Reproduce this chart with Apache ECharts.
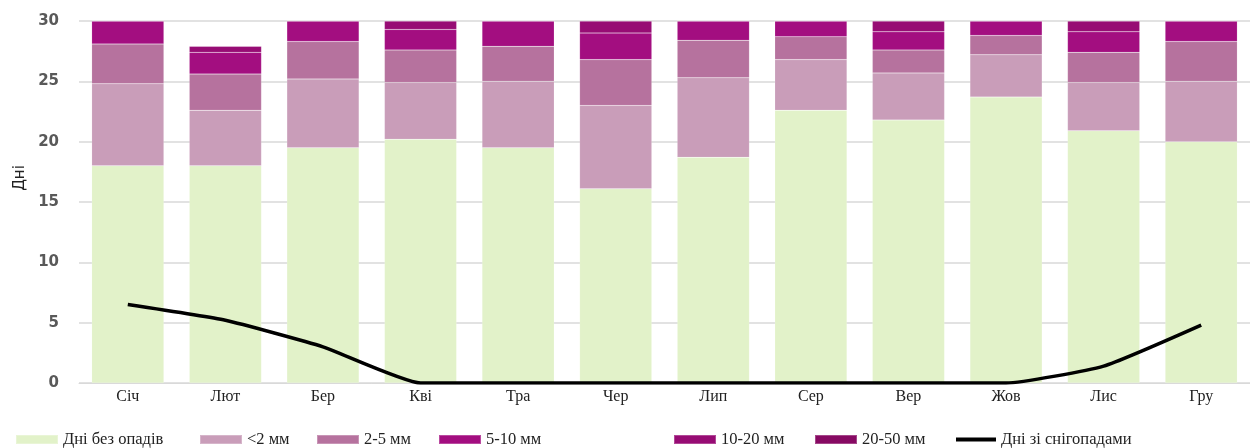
<!DOCTYPE html>
<html>
<head>
<meta charset="utf-8">
<script src="https://cdn.jsdelivr.net/npm/echarts@6/dist/echarts.min.js"></script>
<style>
html,body{margin:0;padding:0;background:#fff;}
#chart{width:1250px;height:448px;}
</style>
</head>
<body>
<div id="chart"></div>
<script>
const months = ['Січ','Лют','Бер','Кві','Тра','Чер','Лип','Сер','Вер','Жов','Лис','Гру'];
const dryDays   = [18.0, 18.0, 19.5, 20.2, 19.5, 16.1, 18.7, 22.6, 21.8, 23.7, 20.9, 20.0];
const lt2mm     = [6.8, 4.6, 5.7, 4.7, 5.5, 6.9, 6.6, 4.2, 3.9, 3.5, 4.0, 5.0];
const mm2to5    = [3.3, 3.0, 3.1, 2.7, 2.9, 3.8, 3.1, 1.9, 1.9, 1.6, 2.5, 3.3];
const mm5to10   = [1.9, 1.8, 1.7, 1.7, 2.1, 2.2, 1.6, 1.3, 1.5, 1.2, 1.7, 1.7];
const mm10to20  = [0, 0.5, 0, 0.7, 0, 1.0, 0, 0, 0.9, 0, 0.9, 0];
const mm20to50  = [0, 0, 0, 0, 0, 0, 0, 0, 0, 0, 0, 0];
const snowDays  = [6.5, 5.2, 3.0, 0, 0, 0, 0, 0, 0, 0, 1.4, 4.8];
const yTicks    = [0, 5, 10, 15, 20, 25, 30];

const names = ['Дні без опадів','<2 мм','2-5 мм','5-10 мм','10-20 мм','20-50 мм','Дні зі снігопадами'];
const colors = ['#e2f2c9','#c99db9','#b6729e','#a30e80','#970c74','#870a63','#000000'];
const barData = [dryDays, lt2mm, mm2to5, mm5to10, mm10to20, mm20to50];

const legendLefts = [15, 199, 316, 438, 673, 814, 956];
const legendText = {fontFamily:'Liberation Serif', fontSize:16.5, color:'#222'};

const chart = echarts.init(document.getElementById('chart'), null, {renderer:'canvas'});
const series = barData.map((d,i)=>({
  name: names[i], type:'bar', stack:'total', data:d, barWidth:'74%',
  itemStyle:{color:colors[i], borderColor:'rgba(255,255,255,0.25)', borderWidth:0.5},
  emphasis:{disabled:true}
}));
series.push({
  name: names[6], type:'line', data:snowDays, smooth:0.15, symbol:'none',
  lineStyle:{color:'#000', width:3.5}, itemStyle:{color:'#000'}, z:5
});

const legends = names.map((n,i)=>({
  data:[n], left: legendLefts[i], top: 431, padding:0,
  itemWidth: i===6 ? 40 : 42, itemHeight: i===6 ? 4 : 9, icon:'rect',
  textStyle: legendText, selectedMode:false
}));

chart.setOption({
  animation:false,
  grid:{left:79, right:-4, top:21, bottom:65, containLabel:false},
  legend: legends,
  xAxis:{
    type:'category', data:months,
    axisTick:{show:false},
    axisLine:{lineStyle:{color:'#d9d9d9', width:1}},
    axisLabel:{fontFamily:'Liberation Serif', fontSize:16, color:'#222', margin:6}
  },
  yAxis:{
    type:'value', min:yTicks[0], max:yTicks[yTicks.length-1], interval:5,
    name:'Дні', nameLocation:'middle', nameGap:44,
    nameTextStyle:{fontFamily:'DejaVu Sans', fontSize:15, color:'#222', padding:[0,0,0,48]},
    axisLabel:{fontFamily:'DejaVu Sans', fontSize:15, fontWeight:'bold', color:'#595959', margin:20},
    splitLine:{lineStyle:{color:'#d9d9d9', width:1.5}},
    axisLine:{show:false}, axisTick:{show:false}
  },
  series: series
});
</script>
</body>
</html>
